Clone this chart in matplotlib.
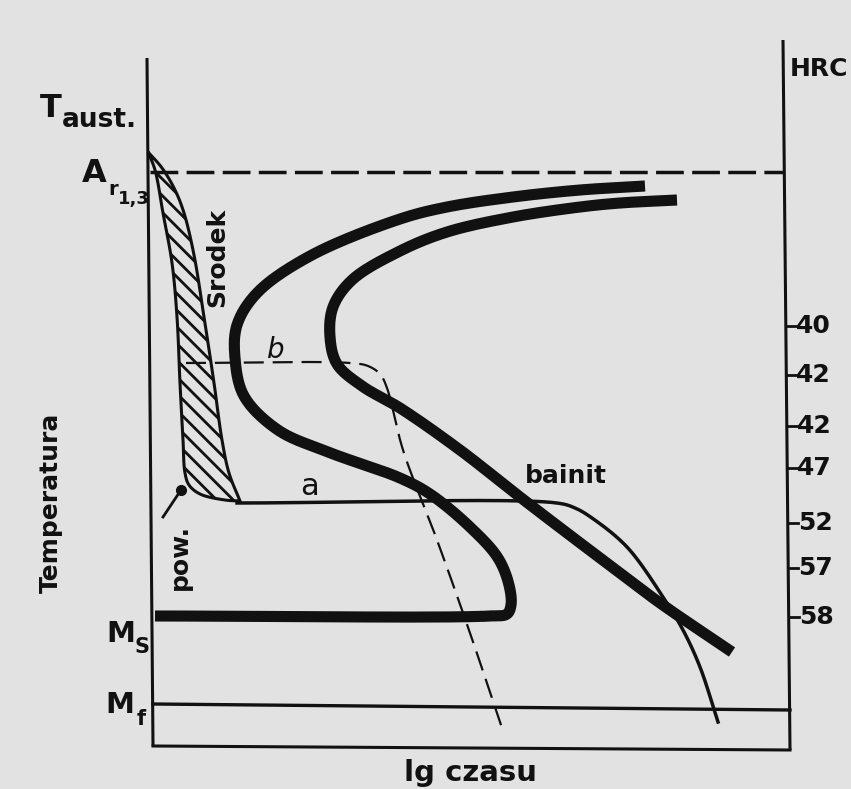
import numpy as np
import matplotlib
matplotlib.use("Agg")
import matplotlib.pyplot as plt

plt.rcParams['font.family'] = ['DejaVu Sans']
plt.rcParams['hatch.linewidth'] = 2.0
plt.rcParams['hatch.color'] = '#111111'

INK = '#111111'
BG = '#e2e2e2'

# ---- data (diagram coordinates: x = lg time, y = temperature, drawn in image units) ----
# C-curve: start of transformation (inner), ends in the Ms horizontal
start_x = [645, 580, 513, 447, 400, 310, 257, 237, 235, 244, 278, 328, 400, 430, 470, 498, 509, 511, 507, 490, 155]
start_y = [186, 190, 197, 207, 219, 256, 293, 325, 358, 396, 430, 452, 478, 494, 527, 558, 585, 605, 614, 616, 616]
# C-curve: end of transformation (outer)
end_x = [677, 620, 580, 513, 447, 400, 352, 333, 330, 337, 362, 400, 460, 520, 567, 620, 660, 732]
end_y = [200, 203, 207, 217, 232, 251, 280, 307, 337, 364, 386, 408, 450, 497, 533, 573, 603, 652]
# hatched band: surface (pow.) and centre (srodek) cooling curves
pow_x = [148, 155, 163, 172, 177, 180, 183, 185, 189, 200, 225, 240]
pow_y = [152, 170, 213, 263, 317, 383, 440, 473, 485, 494, 500, 501]
srodek_x = [148, 162, 175, 184, 194, 204, 214, 222, 229, 240]
srodek_y = [152, 168, 190, 213, 255, 317, 383, 440, 473, 501]
# cooling path b (dashed)
b_x = [186, 350, 368, 380, 387, 403, 437, 470, 502]
b_y = [363, 363, 366, 374, 388, 450, 540, 633, 728]
# cooling path a (isothermal + bainite curve)
a_x = [237, 557, 575, 592, 627, 663, 683, 700, 718]
a_y = [503, 503, 508, 518, 547, 597, 630, 667, 722]
# reference levels
A_level = 172
Mf_level = [704, 710]
# HRC scale
hrc_labels = ['40', '42', '42', '47', '52', '57', '58']
hrc_y = [326, 375, 426, 468, 523, 568, 617]


def catmull(xs, ys, n=24, alpha=0.5):
    p = np.column_stack([xs, ys]).astype(float)
    p = np.vstack([2 * p[0] - p[1], p, 2 * p[-1] - p[-2]])
    out = []
    for i in range(1, len(p) - 2):
        p0, p1, p2, p3 = p[i - 1], p[i], p[i + 1], p[i + 2]
        t0 = 0.0
        t1 = t0 + max(np.linalg.norm(p1 - p0), 1e-6) ** alpha
        t2 = t1 + max(np.linalg.norm(p2 - p1), 1e-6) ** alpha
        t3 = t2 + max(np.linalg.norm(p3 - p2), 1e-6) ** alpha
        t = np.linspace(t1, t2, n, endpoint=False)[:, None]
        a1 = (t1 - t) / (t1 - t0) * p0 + (t - t0) / (t1 - t0) * p1
        a2 = (t2 - t) / (t2 - t1) * p1 + (t - t1) / (t2 - t1) * p2
        a3 = (t3 - t) / (t3 - t2) * p2 + (t - t2) / (t3 - t2) * p3
        b1 = (t2 - t) / (t2 - t0) * a1 + (t - t0) / (t2 - t0) * a2
        b2 = (t3 - t) / (t3 - t1) * a2 + (t - t1) / (t3 - t1) * a3
        c = (t2 - t) / (t2 - t1) * b1 + (t - t1) / (t2 - t1) * b2
        out.append(c)
    out.append(p[-2][None, :])
    out = np.vstack(out)
    return out[:, 0], out[:, 1]


fig = plt.figure(figsize=(8.51, 7.89), dpi=100)
fig.patch.set_facecolor(BG)
ax = fig.add_axes([0, 0, 1, 1])
ax.set_facecolor(BG)
ax.set_xlim(0, 851)
ax.set_ylim(789, 0)
ax.axis('off')

# frame
ax.plot([147, 153], [58, 746], color=INK, lw=2.2, solid_capstyle='butt')
ax.plot([783, 790], [40, 750], color=INK, lw=2.2, solid_capstyle='butt')
ax.plot([153, 790], [746, 750], color=INK, lw=2.2)
ax.plot([153, 790], Mf_level, color=INK, lw=2.4)
ax.plot([150, 784], [A_level, A_level], color=INK, lw=2.5, dashes=(8, 2.4))

# hatched band
px, py = catmull(pow_x, pow_y)
sx, sy = catmull(srodek_x, srodek_y)
ax.fill(np.concatenate([px, sx[::-1]]), np.concatenate([py, sy[::-1]]),
        facecolor='none', edgecolor=INK, hatch='\\\\', lw=2.2, zorder=3)

# cooling paths
bx, by = catmull(b_x, b_y)
ax.plot(bx, by, color=INK, lw=1.6, dashes=(9, 4), zorder=4)
axx, ayy = catmull(a_x, a_y)
ax.plot(axx, ayy, color=INK, lw=2.5, zorder=4)

# C curves
cx, cy = catmull(start_x, start_y)
ax.plot(cx, cy, color=INK, lw=8, solid_capstyle='butt', solid_joinstyle='round', zorder=5)
ex, ey = catmull(end_x, end_y)
ax.plot(ex, ey, color=INK, lw=8, solid_capstyle='butt', solid_joinstyle='round', zorder=5)

# pow. arrow with dot
ax.plot([163, 181], [517, 490], color=INK, lw=2.0, zorder=6)
ax.plot([181], [490], 'o', color=INK, ms=7, zorder=6)

# HRC scale
for lab, yy in zip(hrc_labels, hrc_y):
    xa = 783 + (yy - 40) * 7 / 710
    ax.plot([xa, xa + 10], [yy, yy], color=INK, lw=2.0)
    ax.text(xa + 10, yy, lab, fontsize=18, fontweight='bold', color=INK, ha='left', va='center')
ax.text(790, 69, 'HRC', fontsize=18, fontweight='bold', color=INK, ha='left', va='center')

# labels
tk = dict(color=INK, fontweight='bold')
ax.text(40, 117, 'T', fontsize=23, ha='left', va='baseline', **tk)
ax.text(62, 127, 'aust.', fontsize=19, ha='left', va='baseline', **tk)
ax.text(82, 182, 'A', fontsize=23, ha='left', va='baseline', **tk)
ax.text(108, 195, 'r', fontsize=14, ha='left', va='baseline', **tk)
ax.text(118, 204, '1,3', fontsize=13, ha='left', va='baseline', **tk)
ax.text(106, 642, 'M', fontsize=21, ha='left', va='baseline', **tk)
ax.text(134, 653, 'S', fontsize=15, ha='left', va='baseline', **tk)
ax.text(105, 713, 'M', fontsize=21, ha='left', va='baseline', **tk)
ax.text(137, 725, 'f', fontsize=15, ha='left', va='baseline', **tk)
ax.text(51, 503, 'Temperatura', fontsize=18, rotation=90, ha='center', va='center', **tk)
ax.text(217, 257, 'Srodek', fontsize=18, rotation=90, ha='center', va='center', **tk)
ax.text(180, 557, 'pow.', fontsize=18, rotation=90, ha='center', va='center', **tk)
ax.text(566, 476, 'bainit', fontsize=18, ha='center', va='center', **tk)
ax.text(470, 773, 'lg czasu', fontsize=21, ha='center', va='center', **tk)
ax.text(276, 358, 'b', fontsize=20, style='italic', ha='center', va='baseline', color=INK)
ax.text(309, 495, 'a', fontsize=22, ha='center', va='baseline', color=INK)

fig.savefig('out.png', dpi=100, facecolor=BG)
